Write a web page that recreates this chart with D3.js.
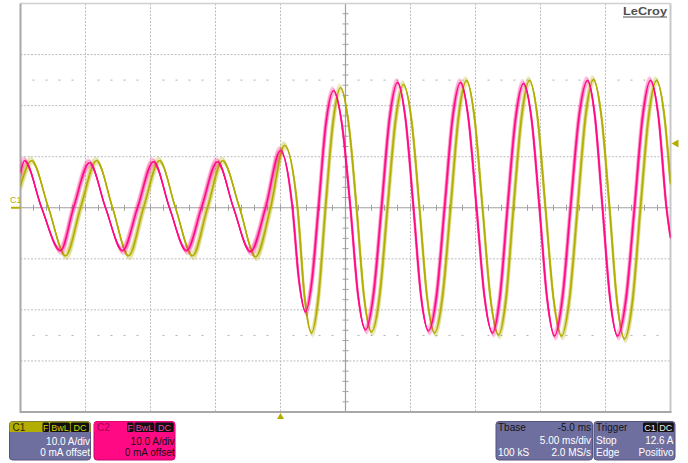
<!DOCTYPE html>
<html><head><meta charset="utf-8">
<script src="https://cdn.jsdelivr.net/npm/d3@7"></script>
<style>html,body{margin:0;padding:0;background:#fff;} svg{display:block;font-family:"Liberation Sans",Arial,sans-serif;}</style>
</head><body><svg id="c" width="688" height="463"></svg>
<script>
// ---- Data (time in ms relative to trigger, current in A) ----
const c1Time = [-20.0,-19.15,-17.85,-16.54,-15.38,-14.15,-12.92,-11.69,-10.54,-9.31,-8.08,-6.77,-5.62,-4.46,-3.15,-1.92,-0.77,
  0.31,1.31,1.85,2.38,2.92,3.46,4.04,4.62,5.23,5.85,6.42,7.0,7.62,8.23,8.85,9.46,10.08,10.69,11.27,11.85,12.46,13.08,
  13.69,14.31,14.92,15.54,16.15,16.77,17.35,17.92,18.54,19.15,19.77,20.38,21.0,21.62,22.23,22.85,23.46,24.08,24.69,
  25.31,25.88,26.46,27.08,27.69,28.31,28.92,29.54,30.0];
const c1Current = [4.3,9.2,0,-9.4,0,9.2,0,-9.4,0,9.2,0,-9.4,0,9.2,0,-9.6,0,
  12.2,0,-17.4,-24.5,-17.4,0,16.7,23.5,16.7,0,-17.3,-24.3,-17.3,0,17.1,24.1,17.1,0,-17.4,-24.5,-17.4,0,
  17.7,24.9,17.7,0,-17.7,-24.9,-17.7,0,17.7,24.9,17.7,0,-17.8,-25.1,-17.8,0,17.8,25.1,17.8,
  0,-18.2,-25.7,-18.2,0,17.7,24.9,17.7,4.6];
const c2Time = [-20.0,-19.69,-18.38,-16.92,-15.92,-14.69,-13.46,-12.15,-11.0,-9.77,-8.54,-7.23,-6.08,-4.85,-3.62,-2.31,-1.15,
  0.0,0.92,1.42,1.92,2.42,2.92,3.5,4.08,4.73,5.38,5.96,6.54,7.15,7.77,8.38,9.0,9.62,10.23,10.81,11.38,12.0,12.62,
  13.23,13.85,14.46,15.08,15.69,16.31,16.88,17.46,18.08,18.69,19.31,19.92,20.5,21.08,21.69,22.31,22.96,23.62,24.19,
  24.77,25.35,25.92,26.58,27.23,27.85,28.46,29.08,29.69,30.0];
const c2Current = [6.9,9.2,0,-8.4,0,8.8,0,-8.4,0,9.0,0,-8.4,0,9.0,0,-8.6,0,
  11.2,0,-14.2,-20.4,-14.2,0,16.6,22.9,16.3,0,-17.0,-23.9,-17.0,0,17.3,24.5,17.3,0,-17.3,-24.1,-17.3,0,
  17.4,24.5,17.4,0,-17.4,-24.5,-17.4,0,17.4,24.3,17.4,0,-17.6,-25.1,-17.6,0,17.8,24.9,17.8,
  0,-17.8,-25.1,-17.8,0,17.7,24.9,17.7,0,-5.9];
const timeGrid = d3.range(-20, 31, 5);      // 5 ms/div
const currentGrid = d3.range(-40, 41, 10);  // 10 A/div
const triggerLevel = 12.6;
const triggerTime = 0;
const channelLabel = "C1";
const c1Panel = {name:"C1", badges:["F","BwL","DC"], lines:["10.0 A/div","0 mA offset"]};
const c2Panel = {name:"C2", badges:["F","BwL","DC"], lines:["10.0 A/div","0 mA offset"]};
const tbasePanel = {title:"Tbase", value:"-5.0 ms", row2:["","5.00 ms/div"], row3:["100 kS","2.0 MS/s"]};
const trigPanel = {title:"Trigger", badges:["C1","DC"], row2:["Stop","12.6 A"], row3:["Edge","Positivo"]};

// ---- Styles ----
const C1 = "#b3ad00", C2 = "#ff0a84", PURPLE = "#6f6f9f";

const svg = d3.select("#c");
const L = 20.5, R = 670.5, T = 3.5, B = 412;
const x = d3.scaleLinear().domain([-20, 30]).range([L, R]);
const y = d3.scaleLinear().domain([-40, 40]).range([B, T]);

// grid
const g = svg.append("g");
timeGrid.filter(t => t > -20 && t < 30 && t !== 5).forEach(t => {
  g.append("line").attr("x1", x(t)).attr("x2", x(t)).attr("y1", T).attr("y2", B)
    .attr("stroke", "#bdbdbd").attr("stroke-dasharray", "2,1.5").attr("stroke-width", 1);
});
currentGrid.filter(v => v > -40 && v < 40 && v !== 0).forEach(v => {
  g.append("line").attr("x1", L).attr("x2", R).attr("y1", y(v)).attr("y2", y(v))
    .attr("stroke", "#bdbdbd").attr("stroke-dasharray", "2,1.5").attr("stroke-width", 1);
});
// dotted rows at +-2.5 div
[25, -25].forEach(v => {
  d3.range(-20, 30.01, 1).filter(t => Math.abs(t % 5) > 0.01).forEach(t => {
    g.append("line").attr("x1", x(t) - 1).attr("x2", x(t) + 1).attr("y1", y(v)).attr("y2", y(v))
      .attr("stroke", "#b0b0b0").attr("stroke-width", 1);
  });
});
// center axes
g.append("line").attr("x1", L).attr("x2", R).attr("y1", y(0)).attr("y2", y(0)).attr("stroke", "#a0a0a0").attr("stroke-width", 1.2);
g.append("line").attr("x1", x(5)).attr("x2", x(5)).attr("y1", T).attr("y2", B).attr("stroke", "#a0a0a0").attr("stroke-width", 1.2);
d3.range(-20, 30.01, 1).forEach(t => {
  g.append("line").attr("x1", x(t)).attr("x2", x(t)).attr("y1", y(0) - 3).attr("y2", y(0) + 3).attr("stroke", "#a0a0a0");
});
d3.range(-40, 40.01, 2).forEach(v => {
  g.append("line").attr("x1", x(5) - 3).attr("x2", x(5) + 3).attr("y1", y(v)).attr("y2", y(v)).attr("stroke", "#a0a0a0");
});
// frame
g.append("line").attr("x1", L).attr("x2", R).attr("y1", T).attr("y2", T).attr("stroke", "#d0d0d0").attr("stroke-width", 1.5);
g.append("line").attr("x1", R).attr("x2", R).attr("y1", T).attr("y2", B).attr("stroke", "#c8c8c8").attr("stroke-width", 2);
g.append("line").attr("x1", L).attr("x2", L).attr("y1", T).attr("y2", B + 1).attr("stroke", "#a8a8a8").attr("stroke-width", 2);
g.append("line").attr("x1", L).attr("x2", R + 1).attr("y1", B).attr("y2", B).attr("stroke", "#a8a8a8").attr("stroke-width", 2);

// logo
svg.append("text").attr("x", 667).attr("y", 15).attr("text-anchor", "end")
  .attr("font-size", 11.5).attr("font-weight", "bold").attr("fill", "#505050")
  .attr("textLength", 44).attr("lengthAdjust", "spacingAndGlyphs").text("LeCroy");
svg.append("line").attr("x1", 623).attr("x2", 667).attr("y1", 17).attr("y2", 17).attr("stroke", "#505050").attr("stroke-width", 1);

// traces (vertical noise band rendered as offset copies of the same trace)
svg.append("clipPath").attr("id", "plot").append("rect").attr("x", L).attr("y", T).attr("width", R - L).attr("height", B - T);
const line = d3.line().x(d => x(d[0])).y(d => y(d[1])).curve(d3.curveMonotoneX);
const traces = [
  {pts: c1Time.map((t, i) => [t, c1Current[i]]), color: C1},
  {pts: c2Time.map((t, i) => [t, c2Current[i]]), color: C2}
];
const tg = svg.append("g").attr("clip-path", "url(#plot)");
const band = [-4, -2.5, -1, 1, 2.5, 4];
traces.forEach(tr => {
  const d = line(tr.pts);
  band.forEach(dy => {
    tg.append("path").attr("d", d).attr("transform", `translate(${dy * 0.3},${dy})`)
      .attr("fill", "none").attr("stroke", tr.color)
      .attr("stroke-width", 1.2).attr("stroke-opacity", Math.abs(dy) > 3 ? 0.22 : 0.38);
  });
  tg.append("path").attr("d", d).attr("fill", "none").attr("stroke", tr.color)
    .attr("stroke-width", 1.6).attr("stroke-linejoin", "round");
});

// markers
const ty = y(triggerLevel);
svg.append("path").attr("d", `M${R + 1},${ty} L${R + 8},${ty - 4} L${R + 8},${ty + 4} Z`).attr("fill", C1);
const tx = x(triggerTime);
svg.append("path").attr("d", `M${tx},${B + 1} L${tx - 3.5},${B + 7} L${tx + 3.5},${B + 7} Z`).attr("fill", C1);
svg.append("line").attr("x1", 11).attr("x2", L).attr("y1", y(0)).attr("y2", y(0)).attr("stroke", C1).attr("stroke-width", 2);
svg.append("text").attr("x", 10).attr("y", 203).attr("font-size", 9).attr("fill", C1).text(channelLabel);

// panels
function badges(grp, list, x0, widths, color) {
  let cx = x0;
  list.forEach((b, i) => {
    grp.append("rect").attr("x", cx).attr("y", 422.5).attr("width", widths[i]).attr("height", 9.5).attr("rx", 1.5).attr("fill", "#111");
    grp.append("text").attr("x", cx + widths[i] / 2).attr("y", 430.5).attr("text-anchor", "middle")
      .attr("font-size", 9).attr("fill", color).text(b);
    cx += widths[i] + 0.8;
  });
}
function chanPanel(p, x0, bg, headBg, headText, bodyText, badgeText, stroke) {
  const grp = svg.append("g");
  grp.append("rect").attr("x", x0).attr("y", 421.5).attr("width", 81).attr("height", 38.5).attr("rx", 3)
    .attr("fill", bg).attr("stroke", stroke).attr("stroke-width", 1);
  grp.append("path").attr("d", `M${x0},432 V424.5 Q${x0},421.5 ${x0 + 3},421.5 H${x0 + 78} Q${x0 + 81},421.5 ${x0 + 81},424.5 V432 Z`).attr("fill", headBg);
  grp.append("text").attr("x", x0 + 3).attr("y", 431).attr("font-size", 10).attr("fill", headText).text(p.name);
  badges(grp, p.badges, x0 + 33, [6.6, 20, 18.5], badgeText);
  p.lines.forEach((t, i) => grp.append("text").attr("x", x0 + 80.5).attr("y", 444.5 + i * 11.5)
    .attr("text-anchor", "end").attr("font-size", 10).attr("fill", bodyText).text(t));
}
chanPanel(c1Panel, 9.5, PURPLE, C1, "#2a2800", "#fff", "#d8d000", "#55557f");
chanPanel(c2Panel, 94, C2, C2, "#a0004f", "#111", "#ff3fa0", "#c8006a");

function infoPanel(p, x0, w, titleBadges) {
  const grp = svg.append("g");
  grp.append("rect").attr("x", x0).attr("y", 421.5).attr("width", w).attr("height", 38.5).attr("rx", 3)
    .attr("fill", PURPLE).attr("stroke", "#55557f");
  grp.append("text").attr("x", x0 + 2).attr("y", 431).attr("font-size", 10).attr("fill", "#141414").text(p.title);
  if (p.value) grp.append("text").attr("x", x0 + w - 1.5).attr("y", 431).attr("text-anchor", "end").attr("font-size", 10).attr("fill", "#141414").text(p.value);
  if (titleBadges) badges(grp, p.badges, x0 + 49, [14, 16], "#e8e8e8");
  [[p.row2, 444], [p.row3, 456]].forEach(([r, yy]) => {
    grp.append("text").attr("x", x0 + 2).attr("y", yy).attr("font-size", 10).attr("fill", "#fff").text(r[0]);
    grp.append("text").attr("x", x0 + w - 1.5).attr("y", yy).attr("text-anchor", "end").attr("font-size", 10).attr("fill", "#fff").text(r[1]);
  });
}
infoPanel(tbasePanel, 496, 96.5, false);
infoPanel(trigPanel, 594, 81, true);
</script></body></html>
